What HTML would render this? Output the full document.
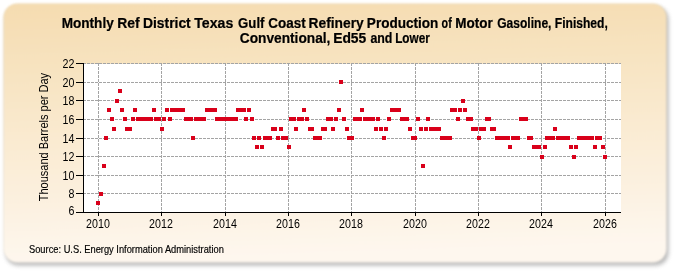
<!DOCTYPE html>
<html><head><meta charset="utf-8"><style>
html,body{margin:0;padding:0;width:675px;height:275px;overflow:hidden;background:#ffffff;}
svg{display:block;font-family:"Liberation Sans",sans-serif;will-change:transform;}
</style></head><body>
<svg width="675" height="275" viewBox="0 0 675 275">
<defs>
<linearGradient id="bg" x1="0" y1="0" x2="0.08" y2="1">
<stop offset="0" stop-color="#f5dcb0"/>
<stop offset="1" stop-color="#fef7ee"/>
</linearGradient>
<filter id="sh" x="-5%" y="-5%" width="115%" height="120%">
<feGaussianBlur stdDeviation="2"/>
</filter>
<filter id="soft" x="-2%" y="-2%" width="104%" height="104%">
<feGaussianBlur stdDeviation="0.8"/>
</filter>
</defs>
<rect x="5.5" y="6.5" width="663" height="259" rx="13" fill="#8a8a8a" opacity="0.6" filter="url(#sh)"/>
<rect x="3.5" y="3.5" width="663" height="259" rx="14" fill="url(#bg)" filter="url(#soft)"/>
<g fill="#000">
<rect x="84" y="64" width="537" height="148" fill="#ffffff"/>
<path d="M83,193.5H621 M83,175.5H621 M83,156.5H621 M83,138.5H621 M83,119.5H621 M83,100.5H621 M83,82.5H621 M83,63.5H621 M98.5,63V212 M161.5,63V212 M225.5,63V212 M288.5,63V212 M351.5,63V212 M415.5,63V212 M478.5,63V212 M541.5,63V212 M605.5,63V212" stroke="#a4a4a4" stroke-width="1" stroke-dasharray="3,1" fill="none" shape-rendering="crispEdges"/>
<path d="M96,201h4v4h-4z M99,192h4v4h-4z M102,164h4v4h-4z M104,136h4v4h-4z M107,108h4v4h-4z M110,117h4v4h-4z M112,127h4v4h-4z M115,99h4v4h-4z M118,89h4v4h-4z M120,108h4v4h-4z M123,117h4v4h-4z M125,127h4v4h-4z M128,127h4v4h-4z M131,117h4v4h-4z M133,108h4v4h-4z M136,117h4v4h-4z M139,117h4v4h-4z M141,117h4v4h-4z M144,117h4v4h-4z M147,117h4v4h-4z M149,117h4v4h-4z M152,108h4v4h-4z M154,117h4v4h-4z M157,117h4v4h-4z M160,127h4v4h-4z M162,117h4v4h-4z M165,108h4v4h-4z M168,117h4v4h-4z M170,108h4v4h-4z M173,108h4v4h-4z M176,108h4v4h-4z M178,108h4v4h-4z M181,108h4v4h-4z M184,117h4v4h-4z M186,117h4v4h-4z M189,117h4v4h-4z M191,136h4v4h-4z M194,117h4v4h-4z M197,117h4v4h-4z M199,117h4v4h-4z M202,117h4v4h-4z M205,108h4v4h-4z M207,108h4v4h-4z M210,108h4v4h-4z M213,108h4v4h-4z M215,117h4v4h-4z M218,117h4v4h-4z M221,117h4v4h-4z M223,117h4v4h-4z M226,117h4v4h-4z M228,117h4v4h-4z M231,117h4v4h-4z M234,117h4v4h-4z M236,108h4v4h-4z M239,108h4v4h-4z M242,108h4v4h-4z M244,117h4v4h-4z M247,108h4v4h-4z M250,117h4v4h-4z M252,136h4v4h-4z M255,145h4v4h-4z M257,136h4v4h-4z M260,145h4v4h-4z M263,136h4v4h-4z M265,136h4v4h-4z M268,136h4v4h-4z M271,127h4v4h-4z M273,127h4v4h-4z M276,136h4v4h-4z M279,127h4v4h-4z M281,136h4v4h-4z M284,136h4v4h-4z M287,145h4v4h-4z M289,117h4v4h-4z M292,117h4v4h-4z M294,127h4v4h-4z M297,117h4v4h-4z M300,117h4v4h-4z M302,108h4v4h-4z M305,117h4v4h-4z M308,127h4v4h-4z M310,127h4v4h-4z M313,136h4v4h-4z M316,136h4v4h-4z M318,136h4v4h-4z M321,127h4v4h-4z M323,127h4v4h-4z M326,117h4v4h-4z M329,117h4v4h-4z M331,127h4v4h-4z M334,117h4v4h-4z M337,108h4v4h-4z M339,80h4v4h-4z M342,117h4v4h-4z M345,127h4v4h-4z M347,136h4v4h-4z M350,136h4v4h-4z M353,117h4v4h-4z M355,117h4v4h-4z M358,117h4v4h-4z M360,108h4v4h-4z M363,117h4v4h-4z M366,117h4v4h-4z M368,117h4v4h-4z M371,117h4v4h-4z M374,127h4v4h-4z M376,117h4v4h-4z M379,127h4v4h-4z M382,136h4v4h-4z M384,127h4v4h-4z M387,117h4v4h-4z M390,108h4v4h-4z M392,108h4v4h-4z M395,108h4v4h-4z M397,108h4v4h-4z M400,117h4v4h-4z M403,117h4v4h-4z M405,117h4v4h-4z M408,127h4v4h-4z M411,136h4v4h-4z M413,136h4v4h-4z M416,117h4v4h-4z M419,127h4v4h-4z M421,164h4v4h-4z M424,127h4v4h-4z M426,117h4v4h-4z M429,127h4v4h-4z M432,127h4v4h-4z M434,127h4v4h-4z M437,127h4v4h-4z M440,136h4v4h-4z M442,136h4v4h-4z M445,136h4v4h-4z M448,136h4v4h-4z M450,108h4v4h-4z M453,108h4v4h-4z M456,117h4v4h-4z M458,108h4v4h-4z M461,99h4v4h-4z M463,108h4v4h-4z M466,117h4v4h-4z M469,117h4v4h-4z M471,127h4v4h-4z M474,127h4v4h-4z M477,136h4v4h-4z M479,127h4v4h-4z M482,127h4v4h-4z M485,117h4v4h-4z M487,117h4v4h-4z M490,127h4v4h-4z M492,127h4v4h-4z M495,136h4v4h-4z M498,136h4v4h-4z M500,136h4v4h-4z M503,136h4v4h-4z M506,136h4v4h-4z M508,145h4v4h-4z M511,136h4v4h-4z M514,136h4v4h-4z M516,136h4v4h-4z M519,117h4v4h-4z M522,117h4v4h-4z M524,117h4v4h-4z M527,136h4v4h-4z M529,136h4v4h-4z M532,145h4v4h-4z M535,145h4v4h-4z M537,145h4v4h-4z M540,155h4v4h-4z M543,145h4v4h-4z M545,136h4v4h-4z M548,136h4v4h-4z M551,136h4v4h-4z M553,127h4v4h-4z M556,136h4v4h-4z M559,136h4v4h-4z M561,136h4v4h-4z M564,136h4v4h-4z M566,136h4v4h-4z M569,145h4v4h-4z M572,155h4v4h-4z M574,145h4v4h-4z M577,136h4v4h-4z M580,136h4v4h-4z M582,136h4v4h-4z M585,136h4v4h-4z M588,136h4v4h-4z M590,136h4v4h-4z M593,145h4v4h-4z M595,136h4v4h-4z M598,136h4v4h-4z M601,145h4v4h-4z M603,155h4v4h-4z" fill="#d9001a" shape-rendering="crispEdges"/>
<path d="M83.5,63V213 M83,212.5H621 M76,212.5H83 M76,193.5H83 M76,175.5H83 M76,156.5H83 M76,138.5H83 M76,119.5H83 M76,100.5H83 M76,82.5H83 M76,63.5H83 M98.5,212V216 M161.5,212V216 M225.5,212V216 M288.5,212V216 M351.5,212V216 M415.5,212V216 M478.5,212V216 M541.5,212V216 M605.5,212V216" stroke="#000" stroke-width="1" fill="none" shape-rendering="crispEdges"/>
<text transform="translate(74.5,215.30) scale(0.93,1.08)" text-anchor="end" font-size="11.5">6</text>
<text transform="translate(74.5,197.80) scale(0.93,1.08)" text-anchor="end" font-size="11.5">8</text>
<text transform="translate(74.5,179.80) scale(0.93,1.08)" text-anchor="end" font-size="11.5">10</text>
<text transform="translate(74.5,160.80) scale(0.93,1.08)" text-anchor="end" font-size="11.5">12</text>
<text transform="translate(74.5,142.80) scale(0.93,1.08)" text-anchor="end" font-size="11.5">14</text>
<text transform="translate(74.5,123.80) scale(0.93,1.08)" text-anchor="end" font-size="11.5">16</text>
<text transform="translate(74.5,104.80) scale(0.93,1.08)" text-anchor="end" font-size="11.5">18</text>
<text transform="translate(74.5,86.80) scale(0.93,1.08)" text-anchor="end" font-size="11.5">20</text>
<text transform="translate(74.5,67.80) scale(0.93,1.08)" text-anchor="end" font-size="11.5">22</text>
<text transform="translate(98.00,228) scale(0.93,1.08)" text-anchor="middle" font-size="11.5">2010</text>
<text transform="translate(161.00,228) scale(0.93,1.08)" text-anchor="middle" font-size="11.5">2012</text>
<text transform="translate(225.00,228) scale(0.93,1.08)" text-anchor="middle" font-size="11.5">2014</text>
<text transform="translate(288.00,228) scale(0.93,1.08)" text-anchor="middle" font-size="11.5">2016</text>
<text transform="translate(351.00,228) scale(0.93,1.08)" text-anchor="middle" font-size="11.5">2018</text>
<text transform="translate(415.00,228) scale(0.93,1.08)" text-anchor="middle" font-size="11.5">2020</text>
<text transform="translate(478.00,228) scale(0.93,1.08)" text-anchor="middle" font-size="11.5">2022</text>
<text transform="translate(541.00,228) scale(0.93,1.08)" text-anchor="middle" font-size="11.5">2024</text>
<text transform="translate(605.00,228) scale(0.93,1.08)" text-anchor="middle" font-size="11.5">2026</text>
<text transform="translate(47.8,137.1) rotate(-90) scale(0.97,1.12)" text-anchor="middle" font-size="11.35">Thousand Barrels per Day</text>
<text transform="translate(61.65,27.7) scale(1.047,1.1)" font-size="13" font-weight="bold" stroke="#000" stroke-width="0.2">Monthly</text>
<text transform="translate(117.33,27.7) scale(1.070,1.1)" font-size="13" font-weight="bold" stroke="#000" stroke-width="0.2">Ref</text>
<text transform="translate(142.93,27.7) scale(1.068,1.1)" font-size="13" font-weight="bold" stroke="#000" stroke-width="0.2">District</text>
<text transform="translate(194.30,27.7) scale(1.086,1.1)" font-size="13" font-weight="bold" stroke="#000" stroke-width="0.2">Texas</text>
<text transform="translate(238.10,27.7) scale(1.015,1.1)" font-size="13" font-weight="bold" stroke="#000" stroke-width="0.2">Gulf</text>
<text transform="translate(268.30,27.7) scale(1.039,1.1)" font-size="13" font-weight="bold" stroke="#000" stroke-width="0.2">Coast</text>
<text transform="translate(308.54,27.7) scale(1.061,1.1)" font-size="13" font-weight="bold" stroke="#000" stroke-width="0.2">Refinery</text>
<text transform="translate(366.86,27.7) scale(1.043,1.1)" font-size="13" font-weight="bold" stroke="#000" stroke-width="0.2">Production</text>
<text transform="translate(441.60,27.7) scale(0.823,1.1)" font-size="13" font-weight="bold" stroke="#000" stroke-width="0.2">of</text>
<text transform="translate(455.36,27.7) scale(1.040,1.1)" font-size="13" font-weight="bold" stroke="#000" stroke-width="0.2">Motor</text>
<text transform="translate(497.20,27.7) scale(0.928,1.1)" font-size="13" font-weight="bold" stroke="#000" stroke-width="0.2">Gasoline,</text>
<text transform="translate(554.77,27.7) scale(0.931,1.1)" font-size="13" font-weight="bold" stroke="#000" stroke-width="0.2">Finished,</text>
<text transform="translate(239.80,42.7) scale(1.055,1.1)" font-size="13" font-weight="bold" stroke="#000" stroke-width="0.2">Conventional,</text>
<text transform="translate(333.13,42.7) scale(1.067,1.1)" font-size="13" font-weight="bold" stroke="#000" stroke-width="0.2">Ed55</text>
<text transform="translate(370.40,42.7) scale(0.952,1.1)" font-size="13" font-weight="bold" stroke="#000" stroke-width="0.2">and</text>
<text transform="translate(395.19,42.7) scale(0.905,1.1)" font-size="13" font-weight="bold" stroke="#000" stroke-width="0.2">Lower</text>
<text transform="translate(29,253) scale(0.98,1.12)" font-size="9.5" stroke="#000" stroke-width="0.15">Source: U.S. Energy Information Administration</text>
</g>
</svg>
</body></html>
